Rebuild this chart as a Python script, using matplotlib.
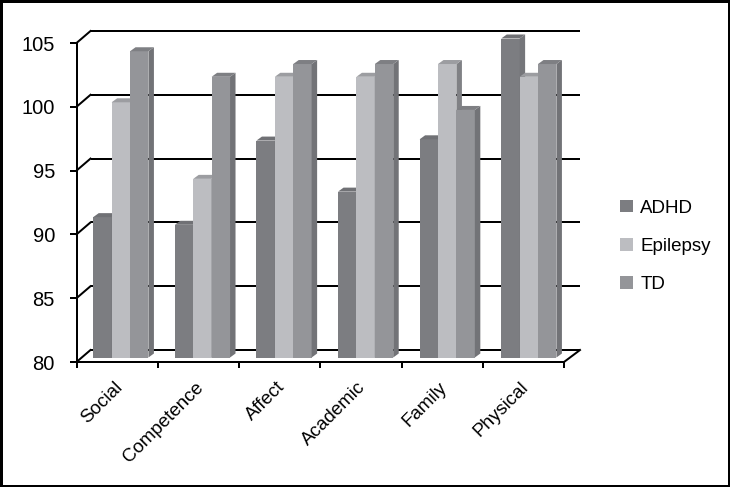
import matplotlib
matplotlib.use('Agg')
from matplotlib import pyplot as plt, transforms
from matplotlib.patches import Patch, Polygon, Rectangle

plt.rcParams['font.family'] = ['Liberation Sans', 'DejaVu Sans']

categories = ['Social', 'Competence', 'Affect', 'Academic', 'Family', 'Physical']
adhd = [91, 90.4, 97, 93, 97.1, 105]
epilepsy = [100, 94, 102, 102, 103, 102]
td = [104, 102, 103, 103, 99.4, 103]
y_ticks = [80, 85, 90, 95, 100, 105]

# front, side, top colours for each series
series = [
    ('ADHD', adhd, '#7c7d81', '#75767a', '#707175'),
    ('Epilepsy', epilepsy, '#bcbdc1', '#808185', '#9c9da1'),
    ('TD', td, '#949599', '#727377', '#7e7f83'),
]

W, H = 730, 487
px = 1 / 100 * 72  # one pixel in points at dpi 100

fig = plt.figure(figsize=(W / 100, H / 100), dpi=100)
# front plane of the chart box, in pixels of the target
left, right, top, bottom = 76.5, 564, 43, 362
ax = fig.add_axes([left / W, 1 - bottom / H, (right - left) / W, (bottom - top) / H])
ax.set_xlim(0, 6)
ax.set_ylim(80, 105)
ax.set_facecolor('none')


def shift(dx, dy):
    # offset in pixels on top of the data scale
    return ax.transData + transforms.ScaledTranslation(dx / 100, dy / 100, fig.dpi_scale_trans)


# back wall and the lines that run up to it
back = shift(14, 12)
for v in y_ticks:
    ax.plot([0, 6.025], [v, v], color='black', lw=2 * px, transform=back, clip_on=False, zorder=1,
            solid_capstyle='butt')
    start = ax.transData.transform((0, v))
    ax.plot([start[0], start[0] + 14], [start[1], start[1] + 12], color='black', lw=2 * px,
            transform=None, clip_on=False, zorder=1)

start = ax.transData.transform((6, 80))
ax.plot([start[0], start[0] + 16], [start[1], start[1] + 12], color='black', lw=2 * px,
        transform=None, clip_on=False, zorder=1)

# bars sit a few px in from the front plane
bar_width = 18.4 * 6 / (right - left)
group_step = 1.0043  # bar groups are spaced a touch wider than the ticks
plane = shift(3.7, 4.5)
depth_x = 5.5
depth_y = 4
for i, (name, values, front, side, cap) in enumerate(series):
    for j, v in enumerate(values):
        x0 = j * group_step + 0.5 + (i - 1.5) * bar_width
        x1 = x0 + bar_width
        ax.bar(x0, v - 80, bar_width, bottom=80, align='edge', color=front, lw=0, transform=plane,
               clip_on=False, zorder=3 + i)
        p0 = plane.transform((x1, 80))
        p1 = plane.transform((x1, v))
        p2 = plane.transform((x0, v))
        side_pts = [p0, p1, (p1[0] + depth_x, p1[1] + depth_y), (p0[0] + depth_x, p0[1] + depth_y)]
        cap_pts = [p2, p1, (p1[0] + depth_x, p1[1] + depth_y), (p2[0] + depth_x, p2[1] + depth_y)]
        ax.add_patch(Polygon(side_pts, closed=True, fc=side, ec='none', transform=None, clip_on=False,
                             zorder=3 + i))
        ax.add_patch(Polygon(cap_pts, closed=True, fc=cap, ec='none', transform=None, clip_on=False,
                             zorder=3 + i))

ax.spines['top'].set_visible(False)
ax.spines['right'].set_visible(False)
ax.spines['left'].set_linewidth(2 * px)
ax.spines['bottom'].set_linewidth(2 * px)
ax.spines['left'].set_zorder(8)
ax.spines['bottom'].set_zorder(8)

ax.set_yticks(y_ticks)
ax.tick_params(axis='y', length=7 * px, width=2 * px, pad=10.5, labelsize=14.5)
ax.set_xticks(range(7))
ax.set_xticklabels([])
ax.set_xticks([j + 0.5 for j in range(6)], categories, minor=True, rotation=45, ha='right',
              rotation_mode='anchor')
ax.tick_params(axis='x', which='major', length=6 * px, width=2 * px)
ax.tick_params(axis='x', which='minor', length=0, pad=12, labelsize=13.5)
for label in ax.get_xticklabels(minor=True):
    label.set_transform(label.get_transform() + transforms.ScaledTranslation(-3.5 / 100, 0, fig.dpi_scale_trans))

handles = [Patch(fc=s[2], ec='none', label=s[0]) for s in series]
fig.legend(handles=handles, loc='upper left', bbox_to_anchor=(612.5 / W, 1 - 192 / H), frameon=False,
           fontsize=13.5, handlelength=0.68, handleheight=0.68, handletextpad=0.4, labelspacing=1.13,
           borderaxespad=0)

# outer frame
fig.add_artist(Rectangle((0, 0), 1, 1, transform=fig.transFigure, fc='none', ec='black', lw=5 * px))

plt.savefig('out.png', dpi=100)
